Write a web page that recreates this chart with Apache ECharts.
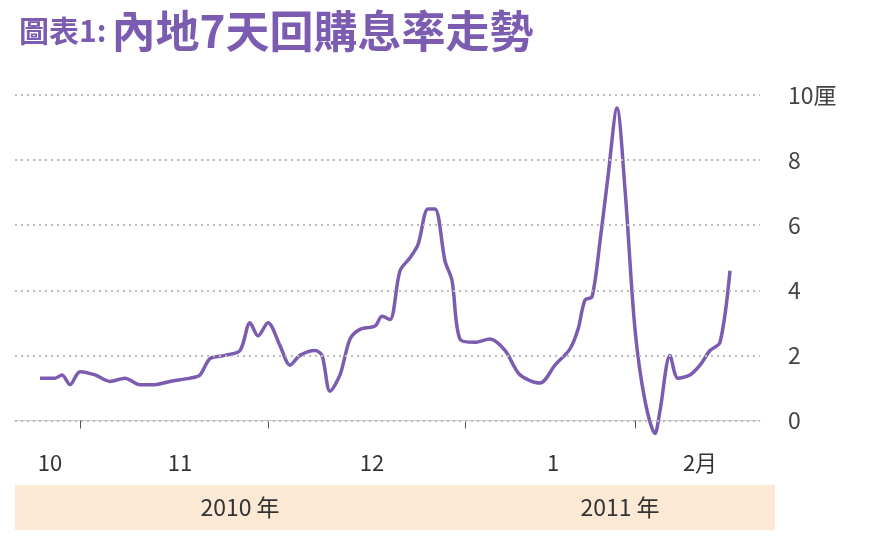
<!DOCTYPE html><html><head><meta charset="utf-8">
<script src="https://cdn.jsdelivr.net/npm/echarts@6/dist/echarts.min.js"></script>
<style>body{margin:0}#c{width:892px;height:540px}</style></head><body><div id="c"></div>
<script>
const days=[25,40,47,55,65,80,95,110,125,140,155,175,185,195,210,225,235,243,253,265,275,285,300,307,315,325,335,345,360,367,375,385,395,403,413,420,430,437,445,460,475,490,505,525,540,555,563,570,577,585,593,602,610,620,630,640,645,655,663,675,685,695,705,715];
const rates=[1.3,1.3,1.4,1.1,1.5,1.4,1.2,1.3,1.1,1.1,1.2,1.3,1.4,1.9,2.0,2.15,3.0,2.6,3.0,2.3,1.7,2.0,2.15,2.0,0.9,1.4,2.5,2.8,2.9,3.2,3.1,4.6,5.0,5.4,6.5,6.5,4.9,4.3,2.5,2.4,2.5,2.15,1.4,1.15,1.7,2.2,2.8,3.7,3.8,5.5,7.5,9.6,7.1,2.8,0.6,-0.4,0.3,2.0,1.3,1.4,1.7,2.15,2.4,4.6];
const yTicks=[0,2,4,6,8,10];
const monthPos=[35,165,357,538,685];
const monthLabels=['10','11','12','1','2月'];
const tickPos=[65,253,450,620];
const yearLabels=['2010 年','2011 年'];
const purple='#7b5cb0';
const ch=echarts.init(document.getElementById('c'));
ch.setOption({
 animation:false,
 title:{text:'{a|圖表1:} {b|內地7天回購息率走勢}',left:14,top:4,textStyle:{rich:{
  a:{fontSize:30,fontWeight:'bold',color:purple,fontFamily:'Noto Sans CJK TC'},
  b:{fontSize:44,fontWeight:'bold',color:purple,fontFamily:'Noto Sans CJK TC'}}}},
 grid:{left:15,right:132,top:95,bottom:100},
 xAxis:{type:'value',min:0,max:745,splitLine:{show:false},
  axisLine:{show:true,lineStyle:{color:'#ccc'}},
  axisTick:{show:true,customValues:tickPos,length:8,lineStyle:{color:'#555'}},
  axisLabel:{customValues:monthPos,formatter:v=>monthLabels[monthPos.indexOf(v)],fontSize:22,color:'#333',margin:12,fontFamily:'Noto Sans CJK TC'}},
 yAxis:{type:'value',position:'right',min:-0.6,max:10,splitLine:{show:false},axisLine:{show:false},axisTick:{show:false},
  axisLabel:{customValues:yTicks,formatter:v=>v===10?'10厘':String(v),fontSize:23,color:'#444',margin:28,fontFamily:'Noto Sans CJK TC'}},
 graphic:[
  {type:'rect',shape:{x:15,y:485,width:760,height:45},style:{fill:'#fbe9d6'}},
  {type:'text',x:240,y:507,style:{text:yearLabels[0],fill:'#333',align:'center',verticalAlign:'middle',font:'23px "Noto Sans CJK TC"'}},
  {type:'text',x:620,y:507,style:{text:yearLabels[1],fill:'#333',align:'center',verticalAlign:'middle',font:'23px "Noto Sans CJK TC"'}}
 ],
 series:[{type:'line',data:days.map((d,i)=>[d,rates[i]]),symbol:'none',smooth:0.3,
  lineStyle:{color:purple,width:3.5},
  markLine:{silent:true,symbol:'none',label:{show:false},lineStyle:{color:'#bbb',type:[2,4],width:2},data:yTicks.map(v=>({yAxis:v}))}}]
});
</script></body></html>
